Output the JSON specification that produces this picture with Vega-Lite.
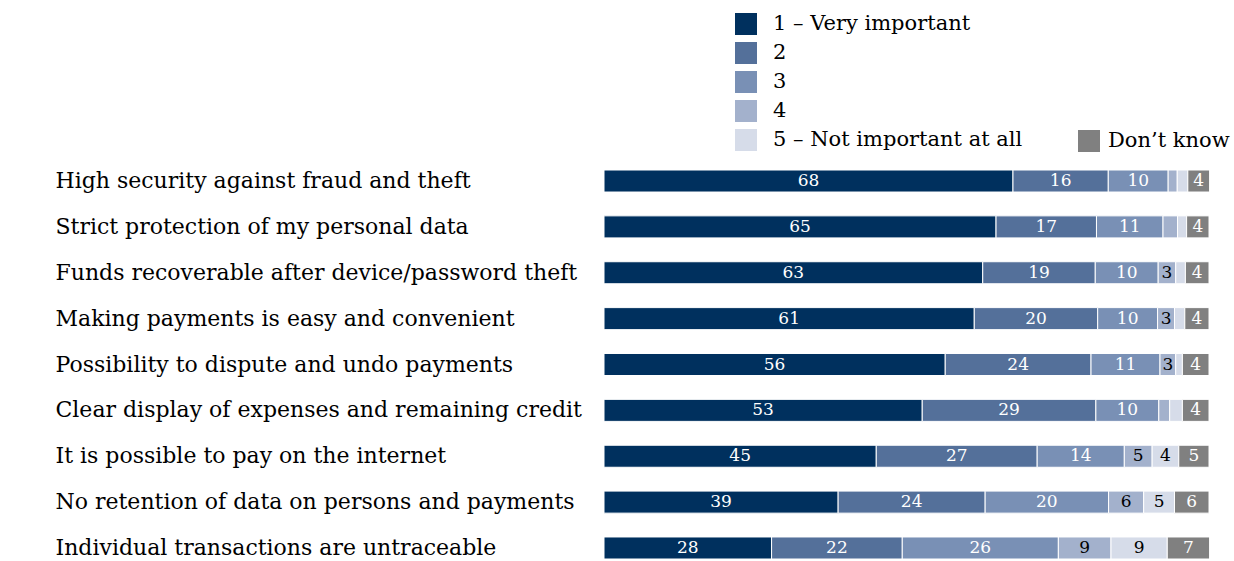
{
  "$schema": "https://vega.github.io/schema/vega-lite/v6.json",
  "width": 605,
  "height": 389,
  "autosize": {"type": "none"},
  "padding": {"left": 604, "top": 170, "right": 25, "bottom": 2},
  "background": "white",
  "config": {
    "view": {"stroke": null},
    "font": "DejaVu Serif",
    "legend": {
      "labelFont": "DejaVu Serif",
      "labelFontSize": 21,
      "labelColor": "black",
      "labelLimit": 0,
      "symbolType": "square",
      "symbolSize": 484,
      "symbolStrokeWidth": 0,
      "rowPadding": 7,
      "padding": 0
    }
  },
  "data": {
    "values": [
      {"item": "High security against fraud and theft", "rating": "1 – Very important", "value": 67.6},
      {"item": "High security against fraud and theft", "rating": "2", "value": 15.75},
      {"item": "High security against fraud and theft", "rating": "3", "value": 9.9},
      {"item": "High security against fraud and theft", "rating": "4", "value": 1.5},
      {"item": "High security against fraud and theft", "rating": "5 – Not important at all", "value": 1.75},
      {"item": "High security against fraud and theft", "rating": "Don’t know", "value": 3.6},
      {"item": "Strict protection of my personal data", "rating": "1 – Very important", "value": 64.8},
      {"item": "Strict protection of my personal data", "rating": "2", "value": 16.6},
      {"item": "Strict protection of my personal data", "rating": "3", "value": 11.0},
      {"item": "Strict protection of my personal data", "rating": "4", "value": 2.4},
      {"item": "Strict protection of my personal data", "rating": "5 – Not important at all", "value": 1.5},
      {"item": "Strict protection of my personal data", "rating": "Don’t know", "value": 3.7},
      {"item": "Funds recoverable after device/password theft", "rating": "1 – Very important", "value": 62.6},
      {"item": "Funds recoverable after device/password theft", "rating": "2", "value": 18.6},
      {"item": "Funds recoverable after device/password theft", "rating": "3", "value": 10.4},
      {"item": "Funds recoverable after device/password theft", "rating": "4", "value": 2.9},
      {"item": "Funds recoverable after device/password theft", "rating": "5 – Not important at all", "value": 1.6},
      {"item": "Funds recoverable after device/password theft", "rating": "Don’t know", "value": 3.9},
      {"item": "Making payments is easy and convenient", "rating": "1 – Very important", "value": 61.2},
      {"item": "Making payments is easy and convenient", "rating": "2", "value": 20.4},
      {"item": "Making payments is easy and convenient", "rating": "3", "value": 9.9},
      {"item": "Making payments is easy and convenient", "rating": "4", "value": 2.8},
      {"item": "Making payments is easy and convenient", "rating": "5 – Not important at all", "value": 1.7},
      {"item": "Making payments is easy and convenient", "rating": "Don’t know", "value": 4.0},
      {"item": "Possibility to dispute and undo payments", "rating": "1 – Very important", "value": 56.4},
      {"item": "Possibility to dispute and undo payments", "rating": "2", "value": 24.1},
      {"item": "Possibility to dispute and undo payments", "rating": "3", "value": 11.4},
      {"item": "Possibility to dispute and undo payments", "rating": "4", "value": 2.6},
      {"item": "Possibility to dispute and undo payments", "rating": "5 – Not important at all", "value": 1.1},
      {"item": "Possibility to dispute and undo payments", "rating": "Don’t know", "value": 4.4},
      {"item": "Clear display of expenses and remaining credit", "rating": "1 – Very important", "value": 52.6},
      {"item": "Clear display of expenses and remaining credit", "rating": "2", "value": 28.7},
      {"item": "Clear display of expenses and remaining credit", "rating": "3", "value": 10.4},
      {"item": "Clear display of expenses and remaining credit", "rating": "4", "value": 1.8},
      {"item": "Clear display of expenses and remaining credit", "rating": "5 – Not important at all", "value": 2.1},
      {"item": "Clear display of expenses and remaining credit", "rating": "Don’t know", "value": 4.4},
      {"item": "It is possible to pay on the internet", "rating": "1 – Very important", "value": 45.0},
      {"item": "It is possible to pay on the internet", "rating": "2", "value": 26.6},
      {"item": "It is possible to pay on the internet", "rating": "3", "value": 14.4},
      {"item": "It is possible to pay on the internet", "rating": "4", "value": 4.6},
      {"item": "It is possible to pay on the internet", "rating": "5 – Not important at all", "value": 4.4},
      {"item": "It is possible to pay on the internet", "rating": "Don’t know", "value": 5.0},
      {"item": "No retention of data on persons and payments", "rating": "1 – Very important", "value": 38.7},
      {"item": "No retention of data on persons and payments", "rating": "2", "value": 24.3},
      {"item": "No retention of data on persons and payments", "rating": "3", "value": 20.4},
      {"item": "No retention of data on persons and payments", "rating": "4", "value": 5.8},
      {"item": "No retention of data on persons and payments", "rating": "5 – Not important at all", "value": 5.1},
      {"item": "No retention of data on persons and payments", "rating": "Don’t know", "value": 5.7},
      {"item": "Individual transactions are untraceable", "rating": "1 – Very important", "value": 27.7},
      {"item": "Individual transactions are untraceable", "rating": "2", "value": 21.6},
      {"item": "Individual transactions are untraceable", "rating": "3", "value": 25.8},
      {"item": "Individual transactions are untraceable", "rating": "4", "value": 8.7},
      {"item": "Individual transactions are untraceable", "rating": "5 – Not important at all", "value": 9.3},
      {"item": "Individual transactions are untraceable", "rating": "Don’t know", "value": 7.0}
    ]
  },
  "transform": [
    {"stack": "value", "groupby": ["item"], "sort": [{"field": "rating", "order": "ascending"}], "as": ["x0", "x1"]},
    {"calculate": "(datum.x0 + datum.x1) / 2", "as": "xm"}
  ],
  "encoding": {
    "y": {
      "field": "item",
      "type": "nominal",
      "sort": null,
      "title": null,
      "scale": {"paddingInner": 0.52, "paddingOuter": 0},
      "axis": {
        "domain": false,
        "ticks": false,
        "labelAlign": "left",
        "labelPadding": 549,
        "labelFont": "DejaVu Serif",
        "labelFontSize": 22,
        "labelColor": "black",
        "labelLimit": 0,
        "labelBaseline": "middle"
      }
    }
  },
  "layer": [
    {
      "transform": [{"filter": "datum.rating !== 'Don’t know'"}],
      "mark": {"type": "bar", "stroke": "white", "strokeWidth": 1},
      "encoding": {
        "x": {"field": "x0", "type": "quantitative", "scale": {"domain": [0, 100], "nice": false}, "axis": null},
        "x2": {"field": "x1"},
        "color": {
          "field": "rating",
          "type": "nominal",
          "scale": {
            "domain": ["1 – Very important", "2", "3", "4", "5 – Not important at all"],
            "range": ["#00305E", "#54709A", "#7990B5", "#A3B1CC", "#D6DCE9"]
          },
          "legend": {"orient": "none", "legendX": 131, "legendY": -157, "title": null, "labelOffset": 16}
        }
      }
    },
    {
      "transform": [{"filter": "datum.rating === 'Don’t know'"}],
      "mark": {"type": "bar", "stroke": "white", "strokeWidth": 1},
      "encoding": {
        "x": {"field": "x0", "type": "quantitative", "scale": {"domain": [0, 100], "nice": false}, "axis": null},
        "x2": {"field": "x1"},
        "color": {
          "field": "rating",
          "type": "nominal",
          "scale": {"domain": ["Don’t know"], "range": ["#808080"]},
          "legend": {"orient": "none", "legendX": 474, "legendY": -40, "title": null, "labelOffset": 8}
        }
      }
    },
    {
      "transform": [
        {"filter": "datum.value >= 2.5"},
        {"filter": "datum.rating !== '4' && datum.rating !== '5 – Not important at all'"}
      ],
      "mark": {"type": "text", "font": "DejaVu Serif", "fontSize": 17, "color": "white", "align": "center", "baseline": "middle"},
      "encoding": {
        "x": {"field": "xm", "type": "quantitative"},
        "text": {"field": "value", "type": "quantitative", "format": ".0f"}
      }
    },
    {
      "transform": [
        {"filter": "datum.value >= 2.5"},
        {"filter": "datum.rating === '4' || datum.rating === '5 – Not important at all'"}
      ],
      "mark": {"type": "text", "font": "DejaVu Serif", "fontSize": 17, "color": "black", "align": "center", "baseline": "middle"},
      "encoding": {
        "x": {"field": "xm", "type": "quantitative"},
        "text": {"field": "value", "type": "quantitative", "format": ".0f"}
      }
    }
  ],
  "resolve": {"scale": {"color": "independent"}}
}
